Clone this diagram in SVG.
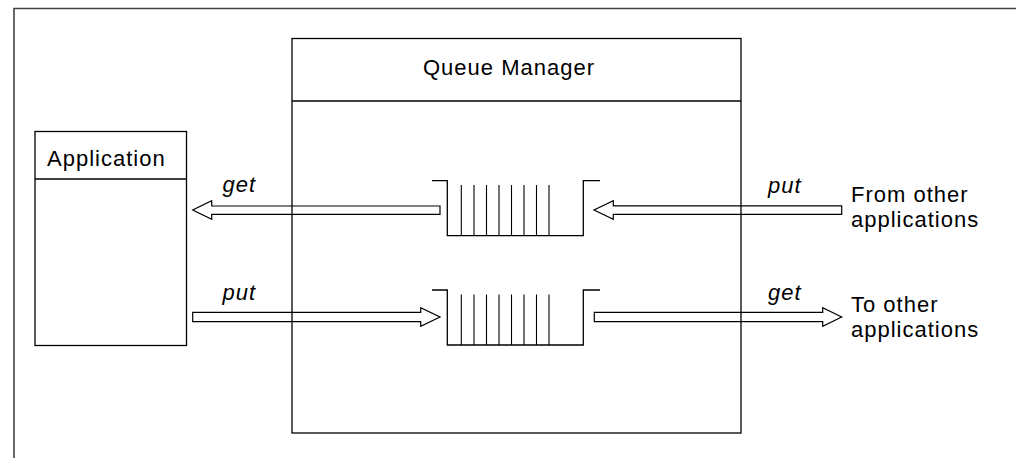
<svg xmlns="http://www.w3.org/2000/svg" width="1016" height="458" viewBox="0 0 1016 458">
<style>
.ln{fill:none;stroke:#000;stroke-width:1.3}
.frame{fill:none;stroke:#444;stroke-width:1.6}
.arr{fill:none;stroke:#000;stroke-width:1.2;stroke-linejoin:miter}
.bar{stroke:#000;stroke-width:1.1}
.t{font-family:"Liberation Sans",Arial,sans-serif;font-size:22px;letter-spacing:1px;fill:#000}
.i{font-style:italic}
</style>
<rect width="1016" height="458" fill="#fff"/>
<path class="frame" d="M14,458 V8.5 H1016"/>
<g id="queue-manager">
<rect class="ln" x="292" y="38.5" width="449" height="394.5"/>
<line class="ln" x1="292" y1="101" x2="741" y2="101"/>
<text class="t" x="423" y="74.5">Queue Manager</text>
</g>
<g id="application">
<rect class="ln" x="35" y="131.5" width="151.5" height="214"/>
<line class="ln" x1="35" y1="179" x2="186.5" y2="179"/>
<text class="t" x="47" y="166">Application</text>
</g>
<g id="queue-in">
<path class="ln" d="M432,180.7 H447.3 V235.7 H583.3 V180.7 H600"/>
<g class="bar">
<line x1="461.3" y1="185" x2="461.3" y2="235.7"/>
<line x1="474" y1="185" x2="474" y2="235.7"/>
<line x1="486.5" y1="185" x2="486.5" y2="235.7"/>
<line x1="499" y1="185" x2="499" y2="235.7"/>
<line x1="511.5" y1="185" x2="511.5" y2="235.7"/>
<line x1="524" y1="185" x2="524" y2="235.7"/>
<line x1="536.5" y1="185" x2="536.5" y2="235.7"/>
<line x1="549" y1="185" x2="549" y2="235.7"/>
</g>
</g>
<g id="queue-out">
<path class="ln" d="M432,290 H447.3 V345 H583.3 V290 H600"/>
<g class="bar">
<line x1="461.3" y1="294.5" x2="461.3" y2="345"/>
<line x1="474" y1="294.5" x2="474" y2="345"/>
<line x1="486.5" y1="294.5" x2="486.5" y2="345"/>
<line x1="499" y1="294.5" x2="499" y2="345"/>
<line x1="511.5" y1="294.5" x2="511.5" y2="345"/>
<line x1="524" y1="294.5" x2="524" y2="345"/>
<line x1="536.5" y1="294.5" x2="536.5" y2="345"/>
<line x1="549" y1="294.5" x2="549" y2="345"/>
</g>
</g>
<g id="from-other">
<text class="t" x="851" y="201.5">From other</text>
<text class="t" x="851" y="226.5">applications</text>
</g>
<g id="to-other">
<text class="t" x="851" y="312.3">To other</text>
<text class="t" x="851" y="336.8">applications</text>
</g>
<g id="connectors">
<polygon class="arr" points="440,206 211.7,206 211.7,200.7 192.7,210 211.7,219.3 211.7,214.3 440,214.3"/>
<polygon class="arr" points="841.7,205.8 613.3,205.8 613.3,200.7 594,210 613.3,219.3 613.3,214.3 841.7,214.3"/>
<polygon class="arr" points="192.7,312.3 420.7,312.3 420.7,307.7 440,317 420.7,326.3 420.7,321.7 192.7,321.7"/>
<polygon class="arr" points="594.3,312.3 822.7,312.3 822.7,307.7 841.7,317 822.7,326.3 822.7,321.7 594.3,321.7"/>
<text class="t i" x="222.5" y="191.5">get</text>
<text class="t i" x="768" y="192.5">put</text>
<text class="t i" x="222.5" y="300">put</text>
<text class="t i" x="768" y="300">get</text>
</g>
</svg>
